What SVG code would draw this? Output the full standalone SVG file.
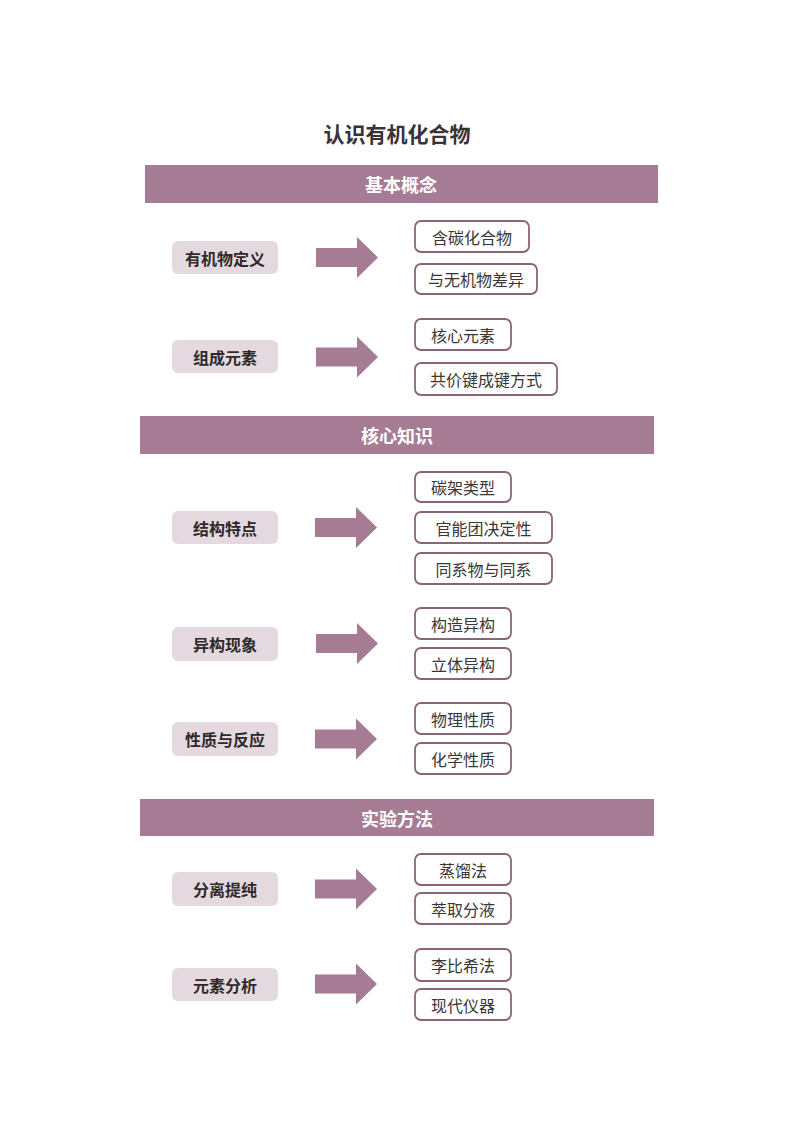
<svg xmlns="http://www.w3.org/2000/svg" width="800" height="1130" viewBox="0 0 800 1130">
<style>
text{font-family:"Noto Sans CJK SC","Noto Sans",sans-serif;text-anchor:middle;dominant-baseline:central}
.title{font-size:21px;font-weight:bold;fill:#3a3236}
.band{fill:#a67c94}
.bandt{font-size:18px;font-weight:bold;fill:#ffffff}
.left{fill:#e4d9df}
.leftt{font-size:16px;font-weight:bold;fill:#2e2a2c}
.box{fill:#ffffff;stroke:#8b6479;stroke-width:1.8}
.boxt{font-size:16px;fill:#3a3638}
.arr{fill:#a67c94}
</style>
<defs>
<path id="arrow" d="M316,-9.5 H357 V-20.5 L378,0 L357,20.5 V9.5 H316 Z"/>
</defs>
<rect width="800" height="1130" fill="#ffffff"/>
<text class="title" x="397" y="133">认识有机化合物</text>

<g id="band1"><rect class="band" x="145" y="165" width="513" height="38"/><text class="bandt" x="401" y="184">基本概念</text></g>
<g id="band2"><rect class="band" x="140" y="416" width="514" height="38"/><text class="bandt" x="397" y="435">核心知识</text></g>
<g id="band3"><rect class="band" x="140" y="799" width="514" height="37"/><text class="bandt" x="397" y="817.5">实验方法</text></g>

<g id="connectors">
<use href="#arrow" class="arr" transform="translate(0,257.5)"/>
<use href="#arrow" class="arr" transform="translate(0,357)"/>
<use href="#arrow" class="arr" transform="translate(-1,527.5)"/>
<use href="#arrow" class="arr" transform="translate(0,643.5)"/>
<use href="#arrow" class="arr" transform="translate(-1,739)"/>
<use href="#arrow" class="arr" transform="translate(-1,889)"/>
<use href="#arrow" class="arr" transform="translate(-1,984)"/>
</g>

<g id="n-def"><rect class="left" x="172" y="241" width="106" height="33" rx="6"/><text class="leftt" x="225" y="257.5">有机物定义</text></g>
<g id="b-def1"><rect class="box" x="415" y="221" width="114" height="31" rx="6"/><text class="boxt" x="472" y="236.5">含碳化合物</text></g>
<g id="b-def2"><rect class="box" x="415" y="264" width="122" height="30" rx="6"/><text class="boxt" x="476" y="279">与无机物差异</text></g>

<g id="n-comp"><rect class="left" x="172" y="340" width="106" height="33" rx="6"/><text class="leftt" x="225" y="356.5">组成元素</text></g>
<g id="b-comp1"><rect class="box" x="415" y="319" width="96" height="31" rx="6"/><text class="boxt" x="463" y="334.5">核心元素</text></g>
<g id="b-comp2"><rect class="box" x="415" y="363" width="142" height="32" rx="6"/><text class="boxt" x="486" y="379">共价键成键方式</text></g>

<g id="n-struct"><rect class="left" x="172" y="511" width="106" height="33" rx="6"/><text class="leftt" x="225" y="527.5">结构特点</text></g>
<g id="b-struct1"><rect class="box" x="415" y="472" width="96" height="30" rx="6"/><text class="boxt" x="463" y="487">碳架类型</text></g>
<g id="b-struct2"><rect class="box" x="415" y="512" width="137" height="31" rx="6"/><text class="boxt" x="483.5" y="527.5">官能团决定性</text></g>
<g id="b-struct3"><rect class="box" x="415" y="553" width="137" height="31" rx="6"/><text class="boxt" x="483.5" y="568.5">同系物与同系</text></g>

<g id="n-iso"><rect class="left" x="172" y="627" width="106" height="34" rx="6"/><text class="leftt" x="225" y="644">异构现象</text></g>
<g id="b-iso1"><rect class="box" x="415" y="608" width="96" height="31" rx="6"/><text class="boxt" x="463" y="623.5">构造异构</text></g>
<g id="b-iso2"><rect class="box" x="415" y="648" width="96" height="31" rx="6"/><text class="boxt" x="463" y="663.5">立体异构</text></g>

<g id="n-prop"><rect class="left" x="172" y="722" width="106" height="34" rx="6"/><text class="leftt" x="225" y="739">性质与反应</text></g>
<g id="b-prop1"><rect class="box" x="415" y="703" width="96" height="31" rx="6"/><text class="boxt" x="463" y="718.5">物理性质</text></g>
<g id="b-prop2"><rect class="box" x="415" y="743" width="96" height="31" rx="6"/><text class="boxt" x="463" y="758.5">化学性质</text></g>

<g id="n-sep"><rect class="left" x="172" y="872" width="106" height="34" rx="6"/><text class="leftt" x="225" y="889">分离提纯</text></g>
<g id="b-sep1"><rect class="box" x="415" y="854" width="96" height="31" rx="6"/><text class="boxt" x="463" y="869.5">蒸馏法</text></g>
<g id="b-sep2"><rect class="box" x="415" y="893" width="96" height="31" rx="6"/><text class="boxt" x="463" y="908.5">萃取分液</text></g>

<g id="n-elem"><rect class="left" x="172" y="968" width="106" height="33" rx="6"/><text class="leftt" x="225" y="984.5">元素分析</text></g>
<g id="b-elem1"><rect class="box" x="415" y="949" width="96" height="32" rx="6"/><text class="boxt" x="463" y="965">李比希法</text></g>
<g id="b-elem2"><rect class="box" x="415" y="989" width="96" height="31" rx="6"/><text class="boxt" x="463" y="1004.5">现代仪器</text></g>
</svg>
